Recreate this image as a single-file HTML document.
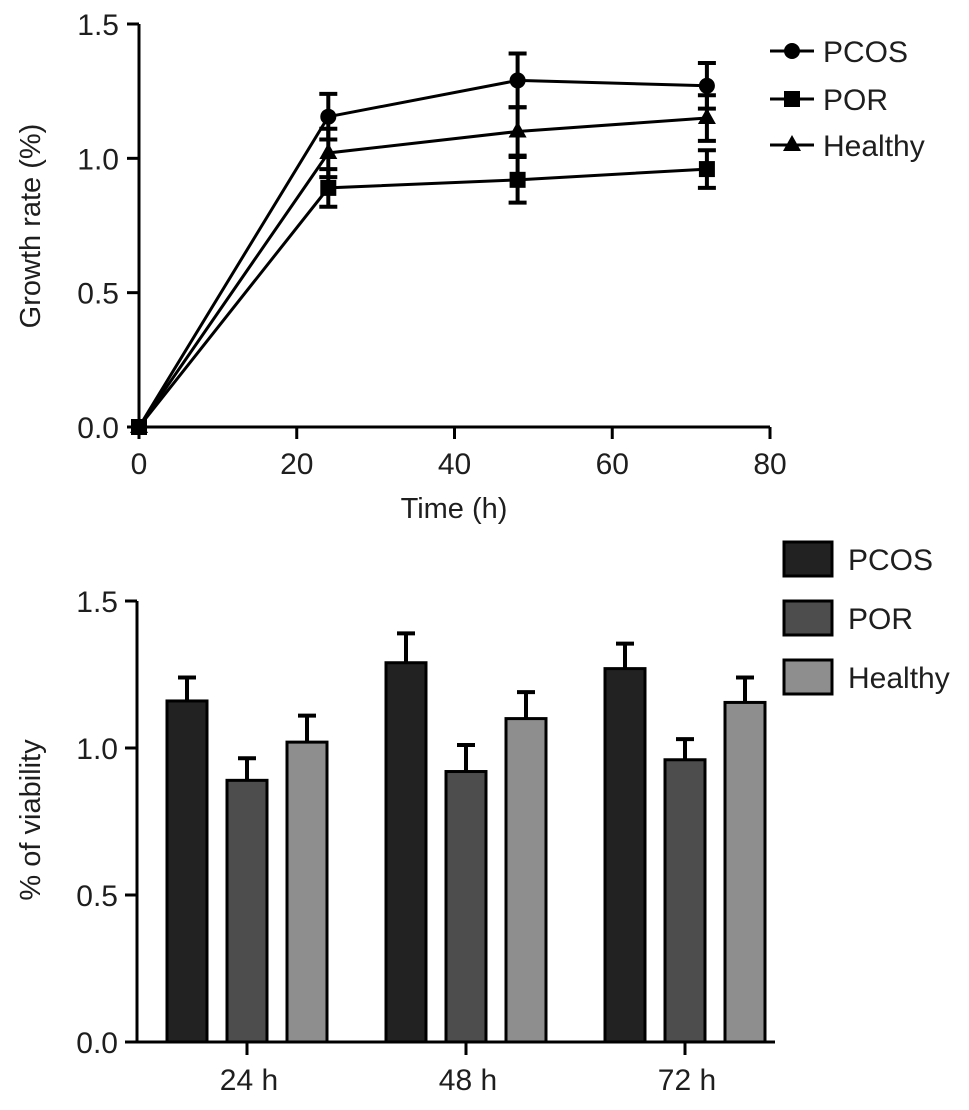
<!DOCTYPE html>
<html><head><meta charset="utf-8"><style>
body{margin:0;background:#fff;}
svg{display:block;font-family:"Liberation Sans",Arial,sans-serif;}
</style></head><body>
<svg id="chart" width="969" height="1110" viewBox="0 0 969 1110"></svg>
<script>
const times=[0,24,48,72];
const pcos=[0,1.155,1.29,1.27];
const pcosErr=[0,0.085,0.1,0.085];
const por=[0,0.89,0.92,0.96];
const porErr=[0,0.07,0.085,0.07];
const healthy=[0,1.02,1.10,1.15];
const healthyErr=[0,0.09,0.09,0.085];
const xTicks=[0,20,40,60,80];
const yTicks=[0,0.5,1.0,1.5];
const barCats=["24 h","48 h","72 h"];
const barPcos=[1.16,1.29,1.27];
const barPcosErr=[0.08,0.10,0.085];
const barPor=[0.89,0.92,0.96];
const barPorErr=[0.075,0.09,0.07];
const barHealthy=[1.02,1.10,1.155];
const barHealthyErr=[0.09,0.09,0.085];

const svg=document.getElementById('chart');
const NS='http://www.w3.org/2000/svg';
const TXT='#1e1e1e';
function mk(tag,attrs,text){const e=document.createElementNS(NS,tag);for(const k in attrs)e.setAttribute(k,attrs[k]);if(text!==undefined)e.textContent=text;svg.appendChild(e);return e;}
const tx=t=>139+t*(770-139)/80;
const ty=v=>427-v*(427-24)/1.5;
const by=v=>1042-v*(1042-601)/1.5;
const bx=i=>247+i*219;

let e;
e=mk('line',{x1:139,y1:24,x2:139,y2:427,stroke:'#000','stroke-width':3});

e=mk('line',{x1:128,y1:427,x2:770,y2:427,stroke:'#000','stroke-width':3});

yTicks.forEach(v=>{
 e=mk('line',{x1:127,y1:ty(v),x2:139,y2:ty(v),stroke:'#000','stroke-width':3});
 
 e=mk('text',{x:119,y:ty(v)+11,'text-anchor':'end','font-size':30,fill:TXT},v.toFixed(1));
 
});
xTicks.forEach(v=>{
 e=mk('line',{x1:tx(v),y1:427,x2:tx(v),y2:439,stroke:'#000','stroke-width':3});
 
 e=mk('text',{x:tx(v),y:474,'text-anchor':'middle','font-size':30,fill:TXT},String(v));
 
});
e=mk('text',{x:454,y:518,'text-anchor':'middle','font-size':29,fill:TXT},'Time (h)');

e=mk('text',{x:0,y:0,'text-anchor':'middle','font-size':29,fill:TXT,transform:'translate(40,226) rotate(-90)'},'Growth rate (%)');


function marker(shape,x,y,name){
 let m;
 if(shape==='circle') m=mk('circle',{cx:x,cy:y,r:8,fill:'#000'});
 else if(shape==='square') m=mk('rect',{x:x-8,y:y-8,width:16,height:16,fill:'#000'});
 else m=mk('polygon',{points:`${x},${y-10} ${x+9},${y+6} ${x-9},${y+6}`,fill:'#000'});
 
}
const series=[[pcos,pcosErr,'circle','pcos'],[por,porErr,'square','por'],[healthy,healthyErr,'triangle','healthy']];
series.forEach(([vals,errs,shape,nm])=>{
 const pts=vals.map((v,i)=>tx(times[i])+','+ty(v)).join(' ');
 e=mk('polyline',{points:pts,fill:'none',stroke:'#000','stroke-width':3});
 
 vals.forEach((v,i)=>{
  if(errs[i]>0){
   const x=tx(times[i]);
   e=mk('path',{d:`M${x},${ty(v-errs[i])}V${ty(v+errs[i])}M${x-9},${ty(v-errs[i])}H${x+9}M${x-9},${ty(v+errs[i])}H${x+9}`,stroke:'#000','stroke-width':4,fill:'none'});
   
  }
  marker(shape,tx(times[i]),ty(v),nm+'-point');
 });
});
[['PCOS','circle',51],['POR','square',99],['Healthy','triangle',145]].forEach(([lab,shape,y])=>{
 e=mk('line',{x1:770,y1:y,x2:814,y2:y,stroke:'#000','stroke-width':3});
 
 marker(shape,792,y,'legend-marker');
 e=mk('text',{x:823,y:y+11,'font-size':30,fill:TXT},lab);
 
});

e=mk('line',{x1:137,y1:601,x2:137,y2:1042,stroke:'#000','stroke-width':3});

e=mk('line',{x1:125,y1:1042,x2:775,y2:1042,stroke:'#000','stroke-width':3});

yTicks.forEach(v=>{
 e=mk('line',{x1:125,y1:by(v),x2:137,y2:by(v),stroke:'#000','stroke-width':3});
 
 e=mk('text',{x:118,y:by(v)+11,'text-anchor':'end','font-size':30,fill:TXT},v.toFixed(1));
 
});
e=mk('text',{x:0,y:0,'text-anchor':'middle','font-size':29,fill:TXT,transform:'translate(40,820) rotate(-90)'},'% of viability');

barCats.forEach((c,i)=>{
 e=mk('line',{x1:bx(i),y1:1042,x2:bx(i),y2:1055,stroke:'#000','stroke-width':3});
 
 e=mk('text',{x:bx(i)+2,y:1090,'text-anchor':'middle','font-size':30,fill:TXT},c);
 
});
const colors=['#222','#4d4d4d','#8e8e8e'];
const barSeries=[[barPcos,barPcosErr,'pcos'],[barPor,barPorErr,'por'],[barHealthy,barHealthyErr,'healthy']];
barSeries.forEach(([vals,errs,nm],s)=>{
 vals.forEach((v,i)=>{
  const cx=bx(i)+(s-1)*60;
  e=mk('path',{d:`M${cx},${by(v)}V${by(v+errs[i])}M${cx-9},${by(v+errs[i])}H${cx+9}`,stroke:'#000','stroke-width':4,fill:'none'});
  
  e=mk('rect',{x:cx-20,y:by(v),width:40,height:by(0)-by(v),fill:colors[s],stroke:'#000','stroke-width':3});
  
 });
});
[['PCOS',559],['POR',618],['Healthy',677]].forEach(([lab,y],s)=>{
 e=mk('rect',{x:784,y:y-17,width:48,height:34,fill:colors[s],stroke:'#000','stroke-width':3});
 
 e=mk('text',{x:848,y:y+11,'font-size':30,fill:TXT},lab);
 
});
</script>
</body></html>
